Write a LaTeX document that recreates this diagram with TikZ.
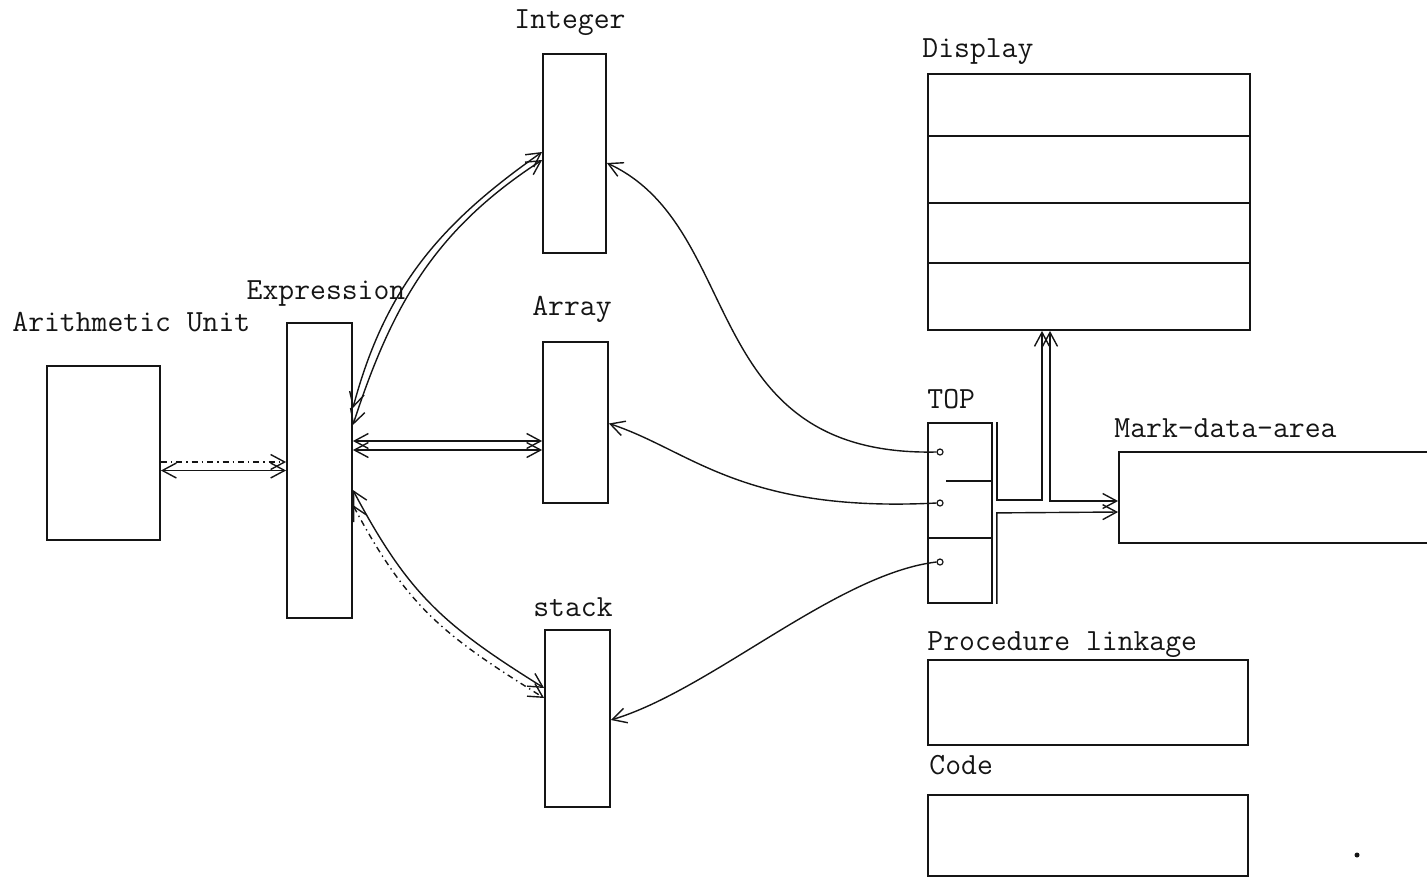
\documentclass[tikz,border=0pt]{standalone}
\usepackage{fontspec}
\usepackage{tikz}
\usetikzlibrary{positioning,calc,arrows.meta}
\definecolor{Ink}{HTML}{151515}

\tikzset{
	unitbox/.style={draw=Ink, rectangle, inner sep=0pt, line width=0.9pt},
	lbl/.style={font=\ttfamily\fontsize{15.4}{17}\selectfont\addfontfeatures{FakeBold=0.4}, text=Ink, inner sep=0pt},
	ptr/.style={draw=Ink, circle, inner sep=0pt, minimum size=3pt, line width=0.6pt},
	link/.style={draw=Ink, line width=0.7pt},
	>={Straight Barb[length=7pt,width=7.5pt]}
}

\begin{document}
\begin{tikzpicture}[x=0.5pt, y=-0.5pt]
	\useasboundingbox (0,0) rectangle (1427,884);

	% storage blocks
	\node[unitbox, minimum width=56.5pt, minimum height=87pt] (au) at (103.5,453) {};
	\node[unitbox, minimum width=32.5pt, minimum height=147.5pt] (expr) at (319.5,470.5) {};
	\node[unitbox, minimum width=31.5pt, minimum height=99.5pt] (integer) at (574.5,153.5) {};
	\node[unitbox, minimum width=32.5pt, minimum height=80.5pt] (array) at (575.5,422.5) {};
	\node[unitbox, minimum width=32.5pt, minimum height=88.5pt] (stack) at (577.5,718.5) {};
	\node[unitbox, minimum width=161pt, minimum height=128pt] (display) at (1089,202) {};
	\node[unitbox, minimum width=32pt, minimum height=90pt] (top) at (960,513) {};
	\node[unitbox, minimum width=165pt, minimum height=45.5pt] (mark) at (1284,497.5) {};
	\node[unitbox, minimum width=160pt, minimum height=42.5pt] (proc) at (1088,702.5) {};
	\node[unitbox, minimum width=160pt, minimum height=40.5pt] (code) at (1088,835.5) {};

	% rows of display and TOP
	\foreach \dy in {63,130,190}
		\draw[link] ($(display.north west)+(0,\dy)$) -- ($(display.north east)+(0,\dy)$);
	\draw[link] ($(top.north west)+(19,59)$) -- ($(top.north east)+(0,59)$);
	\draw[link] ($(top.north west)+(0,116)$) -- ($(top.north east)+(0,116)$);

	% pointers held in TOP
	\node[ptr] (p1) at (940,452) {};
	\node[ptr] (p2) at (940,503) {};
	\node[ptr] (p3) at (940,562) {};

	% labels
	\node[lbl, anchor=base west] (au-lbl) at (12,331) {Arithmetic Unit};
	\node[lbl, anchor=base] (expr-lbl) at (326,299) {Expression};
	\node[lbl, anchor=base] (integer-lbl) at (570,28) {Integer};
	\node[lbl, anchor=base] (array-lbl) at (572,315) {Array};
	\node[lbl, anchor=base] (stack-lbl) at (573,616) {stack};
	\node[lbl, anchor=base west] (display-lbl) at (922,57) {Display};
	\node[lbl, anchor=base west] (top-lbl) at (927,408) {TOP};
	\node[lbl, anchor=base west] (mark-lbl) at (1114,437) {Mark-data-area};
	\node[lbl, anchor=base west] (proc-lbl) at (927,650) {Procedure linkage};
	\node[lbl, anchor=base west] (code-lbl) at (929,774) {Code};

	% arithmetic unit <-> expression
	\draw[link, ->, dash dot] ($(au.east)+(0,9)$) -- ($(expr.west)+(0,-8.5)$);
	\draw[link, <->] ($(au.east)+(0,17.5)$) -- (expr.west);

	% expression <-> integer, array, stack
	\draw[link, <->] ($(expr.east)+(0,-62.5)$) to[out=75, in=215] ($(integer.west)+(0,-1.5)$);
	\draw[link, <->] ($(expr.east)+(0,-45.5)$) to[out=72, in=213] ($(integer.west)+(0,6.5)$);
	\draw[link, <->] ($(expr.east)+(0,-29.5)$) -- ($(array.west)+(0,18.5)$);
	\draw[link, <->] ($(expr.east)+(0,-20.5)$) -- ($(array.west)+(0,27.5)$);
	\draw[link, <->] ($(expr.east)+(0,19.5)$) to[out=-62, in=148, looseness=1.1] ($(stack.west)+(0,-30.5)$);
	\draw[link, <->, dash dot] ($(expr.east)+(0,34.5)$) to[out=-62, in=148, looseness=1.1] ($(stack.west)+(0,-20.5)$);

	% TOP pointers
	\draw[link, ->] (p1.west) .. controls +(-240,5) and +(140,65) .. ($(integer.east)+(0,9.5)$);
	\draw[link, ->] (p2.west) .. controls +(-195,10) and +(82,27) .. ($(array.east)+(0,1)$);
	\draw[link, ->] (p3.west) .. controls +(-100,12) and +(100,-30) .. ($(stack.east)+(0,1.5)$);

	% TOP to display and mark-data-area
	\draw[link, ->] ($(top.north east)+(4,0)$) -- ++(0,78) -| ($(display.south)+(-47,0)$);
	\draw[link, <->] ($(display.south)+(-39,0)$) |- ($(mark.west)+(0,3.5)$);
	\draw[link, ->] ($(top.south east)+(4,0)$) -- ++(0,-91) -- ($(mark.west)+(0,14.5)$);

	\fill[Ink] (1357,855) circle[radius=2.5];
\end{tikzpicture}
\end{document}
